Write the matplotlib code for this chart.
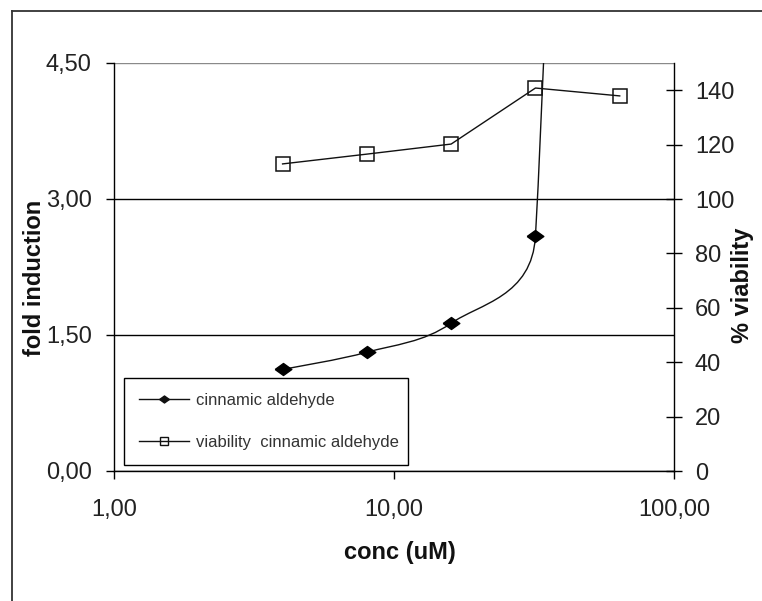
import numpy as np
import matplotlib
matplotlib.use("Agg")
import matplotlib.pyplot as plt
from matplotlib.path import Path
from matplotlib.patches import PathPatch
from matplotlib.lines import Line2D

plt.rcParams['font.family'] = ['Liberation Sans', 'DejaVu Sans']

# ---------------------------------------------------------
# DATA
# ---------------------------------------------------------
conc = [4, 8, 16, 32, 64]
fold_induction = [1.12, 1.31, 1.63, 2.59, 35.0]   # last one is far above the axis
viability = [112.9, 116.5, 120.2, 140.8, 137.9]

x_ticks = [1, 10, 100]
left_ticks = [0, 1.5, 3.0, 4.5]
right_ticks = [0, 20, 40, 60, 80, 100, 120, 140]

label_color = '#222222'


def comma(v):
    return f"{v:.2f}".replace('.', ',')


def excel_smooth(ax, xs, ys):
    # bezier smoothing done in screen space, like the spreadsheet does it
    pts = ax.transData.transform(np.column_stack([xs, ys]))
    n = len(pts)
    verts = [pts[0]]
    codes = [Path.MOVETO]
    for i in range(n - 1):
        p0 = pts[max(i - 1, 0)]
        p1 = pts[i]
        p2 = pts[i + 1]
        p3 = pts[min(i + 2, n - 1)]
        d12 = np.hypot(*(p2 - p1))
        d02 = np.hypot(*(p2 - p0))
        d13 = np.hypot(*(p3 - p1))
        f1 = 1 / 6 if d02 / 6 < d12 / 2 else d12 / (2 * d02)
        f2 = 1 / 6 if d13 / 6 < d12 / 2 else d12 / (2 * d13)
        verts += [p1 + f1 * (p2 - p0), p2 - f2 * (p3 - p1), p2]
        codes += [Path.CURVE4] * 3
    verts = ax.transData.inverted().transform(np.array(verts))
    return Path(verts, codes)


W, H = 762, 601
fig = plt.figure(figsize=(W / 100, H / 100), dpi=100)

# outer frame (left and top edges only)
fig.add_artist(Line2D([12 / W, 12 / W], [0, 1 - 11 / H], color='#333333', lw=1.3))
fig.add_artist(Line2D([12 / W, 1], [1 - 11 / H, 1 - 11 / H], color='#333333', lw=1.3))

ax = fig.add_axes([114 / W, (H - 471) / H, (674 - 114) / W, (471 - 63) / H])
ax.set_xscale('log')
ax.set_xlim(1, 100)
ax.set_ylim(0, 4.5)
ax.set_xticks(x_ticks)
ax.set_xticklabels([comma(v) for v in x_ticks])
ax.xaxis.set_minor_locator(matplotlib.ticker.NullLocator())
ax.set_yticks(left_ticks)
ax.set_yticklabels([comma(v) for v in left_ticks])
ax.yaxis.grid(True, color='black', lw=1.0)
ax.get_ygridlines()[-1].set_color('#8a8a8a')
ax.set_axisbelow(True)
for s in ['top', 'right']:
    ax.spines[s].set_visible(False)
for s in ['left', 'bottom']:
    ax.spines[s].set_linewidth(1.0)
ax.tick_params(axis='y', direction='out', length=6, width=1.0, pad=10,
               labelsize=17, labelcolor=label_color)
ax.tick_params(axis='x', direction='out', length=6, width=1.0, pad=14,
               labelsize=17, labelcolor=label_color)

ax2 = ax.twinx()
ax2.set_ylim(0, 150)
ax2.set_yticks(right_ticks)
for s in ['top', 'left', 'bottom']:
    ax2.spines[s].set_visible(False)
ax2.spines['right'].set_linewidth(1.0)
ax2.tick_params(axis='y', direction='inout', length=12, width=1.0, pad=9,
                labelsize=17, labelcolor=label_color)

# fold induction: smoothed line with diamonds
path = excel_smooth(ax, conc, fold_induction)
ax.add_patch(PathPatch(path, facecolor='none', edgecolor='#111111', lw=1.0))
diamond = [(-1, 0), (0, 0.72), (1, 0), (0, -0.72), (-1, 0)]
ax.plot(conc, fold_induction, linestyle='none', marker=diamond, markersize=12,
        color='black', clip_on=True)
ax.set_xlim(1, 100)
ax.set_ylim(0, 4.5)

# viability: straight line with open squares
ax2.plot(conc, viability, color='#111111', lw=1.0, marker='s', markersize=10,
         markerfacecolor='none', markeredgecolor='#111111', markeredgewidth=1.1)

fig.text(35 / W, 1 - 278 / H, 'fold induction', rotation=90, ha='center', va='center',
         fontsize=17, fontweight='bold', color='#111111')
fig.text(742 / W, 1 - 285 / H, '% viability', rotation=90, ha='center', va='center',
         fontsize=17, fontweight='bold', color='#111111')
fig.text(400 / W, 1 - 553 / H, 'conc (uM)', ha='center', va='center',
         fontsize=17, fontweight='bold', color='#111111')

handles = [
    Line2D([], [], color='#111111', lw=1.0, marker=diamond, markersize=7),
    Line2D([], [], color='#111111', lw=1.0, marker='s', markersize=6,
           markerfacecolor='none', markeredgewidth=1.0),
]
leg = fig.legend(handles, ['cinnamic aldehyde', 'viability  cinnamic aldehyde'],
                 loc='lower left',
                 bbox_to_anchor=(124 / W, (H - 465) / H, (408 - 124) / W, (465 - 377) / H),
                 mode='expand', borderaxespad=0, fontsize=12, handlelength=3.0,
                 handletextpad=0.45, labelspacing=1.65, borderpad=0.9,
                 fancybox=False, framealpha=1, edgecolor='black')
leg.get_frame().set_linewidth(1.0)
for t in leg.get_texts():
    t.set_color('#333333')

fig.savefig('out.png', dpi=100)
